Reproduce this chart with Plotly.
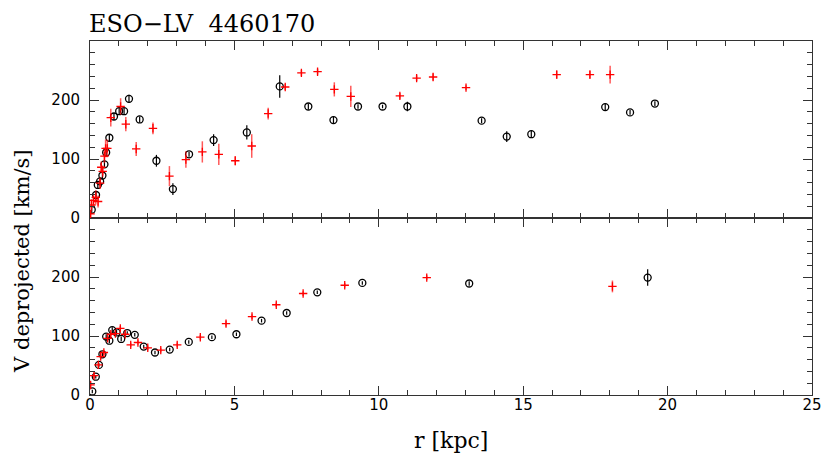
import plotly.graph_objects as go

# ---- data: top panel ----
top_black_r = [0.06, 0.21, 0.27, 0.35, 0.43, 0.50, 0.56, 0.67, 0.83, 1.01, 1.18, 1.35, 1.72, 2.30, 2.87,
               3.43, 4.28, 5.43, 6.57, 7.56, 8.43, 9.28, 10.13, 10.99, 13.56, 14.43, 15.28, 17.84, 18.70, 19.56]
top_black_v = [14, 39, 56, 62, 72, 91, 111, 136, 172, 181, 181, 202, 167, 97, 49,
               108, 132, 145, 223, 189, 166, 189, 189, 189, 165, 138, 142, 188, 179, 194]
top_black_e = [5, 5, 5, 5, 5, 6, 6, 6, 6, 6, 6, 7, 5, 10, 10,
               4, 10, 12, 19, 5, 6, 4, 3, 8, 4, 9, 6, 6, 4, 4]

top_red_r = [0.02, 0.05, 0.12, 0.20, 0.28, 0.35, 0.39, 0.44, 0.50, 0.54, 0.60, 0.72, 1.06, 1.24, 1.60,
             2.18, 2.75, 3.32, 3.89, 4.46, 5.03, 5.60, 6.17, 6.76, 7.32, 7.88, 8.46, 9.03, 10.73,
             11.31, 11.88, 13.02, 16.16, 17.31, 18.01]
top_red_v = [7, 22, 30, 35, 28, 59, 86, 79, 105, 118, 118, 170, 189, 159, 117,
             152, 71, 99, 112, 108, 97, 122, 177, 222, 246, 248, 218, 206, 207,
             237, 239, 221, 243, 243, 243]
top_red_e = [6, 10, 10, 12, 10, 10, 10, 10, 12, 15, 15, 15, 14, 12, 12,
             10, 17, 14, 18, 18, 8, 20, 10, 5, 5, 5, 12, 18, 5,
             5, 6, 4, 7, 7, 15]

# ---- data: bottom panel ----
bot_black_r = [0.08, 0.20, 0.31, 0.43, 0.56, 0.67, 0.77, 0.92, 1.08, 1.29, 1.55, 1.86, 2.25, 2.76,
               3.42, 4.22, 5.07, 5.94, 6.81, 7.87, 9.43, 13.13, 19.31]
bot_black_v = [6, 31, 51, 69, 99, 92, 110, 106, 95, 105, 102, 82, 72, 77,
               90, 98, 103, 126, 139, 174, 190, 189, 199]
bot_black_e = [3, 3, 3, 3, 4, 4, 5, 4, 4, 3, 3, 3, 3, 3,
               3, 3, 3, 3, 3, 3, 3, 4, 14]

bot_red_r = [0.02, 0.14, 0.29, 0.37, 0.48, 0.61, 0.72, 0.88, 1.05, 1.22, 1.41, 1.66, 2.00, 2.45,
             3.02, 3.82, 4.71, 5.61, 6.45, 7.38, 8.82, 11.66, 18.09]
bot_red_v = [17, 33, 51, 65, 72, 96, 103, 104, 113, 103, 85, 89, 80, 76,
             85, 98, 121, 133, 153, 172, 186, 199, 184]
bot_red_e = [6, 5, 4, 4, 4, 4, 4, 4, 4, 4, 4, 4, 4, 4,
             4, 4, 5, 4, 4, 4, 4, 4, 10]

x_ticks = [0, 5, 10, 15, 20, 25]
y_ticks = [0, 100, 200]

title_text = "ESO\u2212LV\u00a0\u00a04460170"
x_label = "r [kpc]"
y_label = "V deprojected [km/s]"

BLACK = "#000000"
RED = "#ff0000"
RED_ERR = "rgba(255,0,0,0.65)"
FRAME = "#333333"


def black_trace(r, v, e, xa, ya):
    return go.Scatter(x=r, y=v, xaxis=xa, yaxis=ya, mode="markers",
                      marker=dict(symbol="circle-open", size=7, color=BLACK, line=dict(width=1.3, color=BLACK)),
                      error_y=dict(type="data", array=e, visible=True, color=BLACK, thickness=1.2, width=0),
                      showlegend=False, hoverinfo="x+y")


def red_trace(r, v, e, xa, ya):
    return go.Scatter(x=r, y=v, xaxis=xa, yaxis=ya, mode="markers",
                      marker=dict(symbol="cross-thin", size=6, color=RED, line=dict(width=1.3, color=RED)),
                      error_y=dict(type="data", array=e, visible=True, color=RED_ERR, thickness=1.5, width=0),
                      showlegend=False, hoverinfo="x+y")


fig = go.Figure()
fig.add_trace(black_trace(top_black_r, top_black_v, top_black_e, "x2", "y2"))
fig.add_trace(red_trace(top_red_r, top_red_v, top_red_e, "x2", "y2"))
fig.add_trace(black_trace(bot_black_r, bot_black_v, bot_black_e, "x", "y"))
fig.add_trace(red_trace(bot_red_r, bot_red_v, bot_red_e, "x", "y"))

tickfont = dict(family="DejaVu Sans", size=15, color="#000")
common_x = dict(range=[0, 25], showline=True, linecolor=FRAME, linewidth=1, mirror="allticks",
                ticks="inside", ticklen=9, tickwidth=1.2, tickcolor=FRAME, tickvals=x_ticks,
                minor=dict(ticks="inside", ticklen=5, tickwidth=1, tickcolor=FRAME, tickmode="linear", tick0=0, dtick=1),
                showgrid=False, zeroline=False, tickfont=tickfont, automargin=False)
common_y = dict(range=[0, 300], showline=True, linecolor=FRAME, linewidth=1, mirror="allticks",
                ticks="inside", ticklen=9, tickwidth=1.2, tickcolor=FRAME, tickvals=y_ticks,
                minor=dict(ticks="inside", ticklen=5, tickwidth=1, tickcolor=FRAME, tickmode="linear", tick0=0, dtick=20),
                showgrid=False, zeroline=False, tickfont=tickfont, ticklabelstandoff=6, automargin=False)

# page body has an 8px margin: figure is sized so it fits the 830x472 window
fig.update_layout(
    width=814, height=456,
    margin=dict(l=82, r=10, t=33, b=69, autoexpand=False),
    paper_bgcolor="white", plot_bgcolor="white",
    xaxis=dict(**common_x, domain=[0, 1], anchor="y", ticklabelstandoff=-4),
    yaxis=dict(**common_y, domain=[0, 0.5], anchor="x"),
    xaxis2=dict(**common_x, domain=[0, 1], anchor="y2", showticklabels=False, matches="x"),
    yaxis2=dict(**common_y, domain=[0.5, 1], anchor="x2"),
    annotations=[
        dict(text=title_text, xref="paper", yref="paper", x=0, y=1, xanchor="left", yanchor="bottom",
             xshift=-3, yshift=1, showarrow=False, font=dict(family="DejaVu Serif", size=24, color="#000")),
        dict(text=y_label, xref="paper", yref="paper", x=0, y=0.376, xanchor="center", yanchor="middle",
             xshift=-68, textangle=-90, showarrow=False, font=dict(family="DejaVu Serif", size=21, color="#000")),
        dict(text=x_label, xref="paper", yref="paper", x=0.5, y=0, xanchor="center", yanchor="middle",
             yshift=-45, showarrow=False, font=dict(family="DejaVu Serif", size=22, color="#000")),
    ],
)

fig.write_html("out.html")
